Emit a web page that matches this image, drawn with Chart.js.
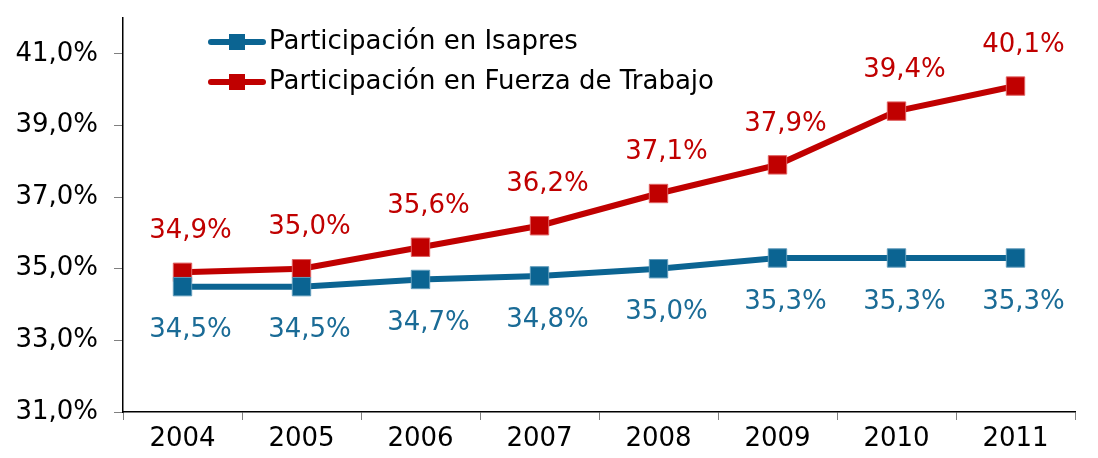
<!DOCTYPE html>
<html><head><meta charset="utf-8">
<script src="https://cdn.jsdelivr.net/npm/chart.js@4/dist/chart.umd.min.js"></script>
<style>html,body{margin:0;padding:0;background:#fff}#wrap{width:1098px;height:458px}</style>
</head><body><div id="wrap"><canvas id="c" width="1098" height="458"></canvas></div>
<script>
const years = ['2004','2005','2006','2007','2008','2009','2010','2011'];
const isapres = [34.5, 34.5, 34.7, 34.8, 35.0, 35.3, 35.3, 35.3];
const fuerza = [34.9, 35.0, 35.6, 36.2, 37.1, 37.9, 39.4, 40.1];
const seriesNames = ['Participación en Isapres', 'Participación en Fuerza de Trabajo'];
const yTicks = [31, 33, 35, 37, 39, 41];

const BLUE = '#0B6492', RED = '#C00000';
const FONT = '"DejaVu Sans", Verdana, sans-serif';
const fmt = v => v.toFixed(1).replace('.', ',') + '%';

const labelsPlugin = {
  id: 'labelsPlugin',
  afterDatasetsDraw(chart) {
    const ctx = chart.ctx;
    ctx.save();
    ctx.font = '26px ' + FONT;
    ctx.textAlign = 'center';
    ctx.textBaseline = 'middle';
    chart.data.datasets.forEach((ds, i) => {
      const meta = chart.getDatasetMeta(i);
      meta.data.forEach((pt, j) => {
        const below = i === 0;
        ctx.fillStyle = below ? '#1A6B96' : '#C00000';
        ctx.fillText(fmt(ds.data[j]), pt.x + 8, pt.y + (below ? 44 : -41));
      });
    });
    // legend
    const ca = chart.chartArea;
    chart.data.datasets.forEach((ds, i) => {
      const y = ca.top + 24 + i * 40;
      const x0 = ca.left + 88;
      ctx.strokeStyle = ds.borderColor;
      ctx.lineWidth = 6;
      ctx.lineCap = 'round';
      ctx.beginPath(); ctx.moveTo(x0, y); ctx.lineTo(x0 + 52, y); ctx.stroke();
      ctx.fillStyle = ds.borderColor;
      ctx.fillRect(x0 + 26 - 8, y - 8, 16, 16);
      ctx.fillStyle = '#000';
      ctx.textAlign = 'left';
      ctx.font = '26px ' + FONT;
      ctx.fillText(ds.label, x0 + 58, y);
    });
    ctx.restore();
  }
};

new Chart(document.getElementById('c'), {
  type: 'line',
  data: {
    labels: years,
    datasets: [
      { label: seriesNames[0], data: isapres, borderColor: BLUE, backgroundColor: BLUE,
        borderWidth: 6, pointStyle: 'rect', pointRadius: 13, pointBorderWidth: 1,
        pointBorderColor: '#5f9bbb', pointBackgroundColor: BLUE, tension: 0 },
      { label: seriesNames[1], data: fuerza, borderColor: RED, backgroundColor: RED,
        borderWidth: 6, pointStyle: 'rect', pointRadius: 13, pointBorderWidth: 1,
        pointBorderColor: '#e06060', pointBackgroundColor: RED, tension: 0 }
    ]
  },
  options: {
    responsive: false,
    animation: false,
    devicePixelRatio: 1,
    layout: { padding: { top: 18, right: 23, left: 0, bottom: 0 } },
    plugins: { legend: { display: false }, tooltip: { enabled: false } },
    scales: {
      x: {
        offset: true,
        grid: { offset: true, drawOnChartArea: false, drawTicks: true, tickLength: 8, color: '#808080' },
        border: { color: '#000', width: 1.5 },
        ticks: { color: '#000', font: { size: 26, family: FONT }, padding: 4 },
        afterFit(s) { s.height = 46; s.paddingLeft = 0; s.paddingRight = 0; }
      },
      y: {
        min: 31, max: 42,
        afterBuildTicks(s) { s.ticks = yTicks.map(v => ({ value: v })); },
        grid: { drawOnChartArea: false, drawTicks: true, tickLength: 9, color: '#808080' },
        border: { color: '#000', width: 1.5 },
        ticks: { color: '#000', font: { size: 26, family: FONT }, padding: 16,
          callback: v => v.toFixed(1).replace('.', ',') + '%' },
        afterFit(s) { s.width = 123; s.paddingTop = 0; s.paddingBottom = 0; }
      }
    }
  },
  plugins: [labelsPlugin]
});
</script></body></html>
